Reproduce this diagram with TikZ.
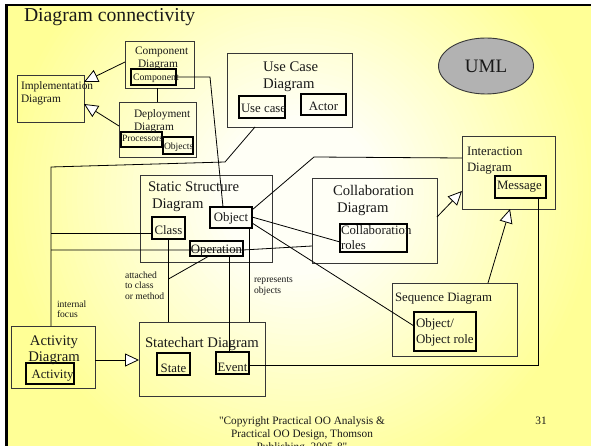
\documentclass[tikz,border=0pt]{standalone}
\usepackage{fontspec}
\setmainfont{Liberation Serif}[Ligatures=TeXOff]
\usetikzlibrary{arrows.meta,calc,shapes.geometric}

\definecolor{slideyellow}{RGB}{255,255,150}
\definecolor{slidecenter}{RGB}{255,255,246}
\definecolor{umlgray}{RGB}{178,178,178}
\definecolor{boxline}{RGB}{55,55,55}
\definecolor{ink}{RGB}{25,25,25}

\tikzset{
  box/.style={draw=boxline, line width=0.9pt, inner sep=0pt, outer sep=0pt, anchor=north west},
  inbox/.style={draw=black, line width=1.1pt, inner sep=0pt, outer sep=0pt, anchor=north west},
  txt/.style={inner sep=0pt, outer sep=0pt, text=ink},
  tbig/.style={txt, font=\fontsize{14.7}{16.5}\selectfont},
  tmid/.style={txt, font=\fontsize{12.8}{16}\selectfont},
  tsmall/.style={txt, font=\fontsize{11.4}{13}\selectfont},
  ttiny/.style={txt, font=\fontsize{9.6}{10.8}\selectfont},
  link/.style={draw=black, line width=0.8pt},
  gen/.style={link, -{Triangle[open, fill=white, length=14pt, width=13pt]}}
}

\begin{document}
\begin{tikzpicture}[x=1pt, y=-1pt]
\useasboundingbox (0,0) rectangle (591,446);

% slide background: yellow with a pale glow in the middle, and its frame
\fill[white] (0,0) rectangle (591,446);
\begin{scope}
  \clip (8,6) rectangle (591,446);
  \fill[slideyellow] (8,6) rectangle (591,446);
  \foreach \i [evaluate=\i as \r using 300-5.5*\i,
               evaluate=\i as \p using 2.5*\i] in {0,...,40}
    \fill[slidecenter!\p!slideyellow] (300,195) circle[radius=\r];
\end{scope}
\fill[black] (5,4) rectangle (8,446);
\fill[black] (5,4) rectangle (591,6);

\node[txt, font=\fontsize{19.7}{22}\selectfont, anchor=base west] (title) at (24,22) {Diagram connectivity};

% diagram boxes
\node[box, minimum width=67, minimum height=47] (impl) at (17,75) {};
\node[box, minimum width=69, minimum height=47] (comp) at (125,41) {};
\node[inbox, minimum width=45, minimum height=16] (compin) at (131,69) {};
\node[box, minimum width=77, minimum height=55] (dep) at (119,102) {};
\node[inbox, minimum width=41, minimum height=15] (proc) at (121,132) {};
\node[inbox, minimum width=30, minimum height=17] (objs) at (163,137) {};
\node[box, minimum width=125, minimum height=74] (uc) at (227,53) {};
\node[inbox, minimum width=46, minimum height=22] (ucin) at (239,96) {};
\node[inbox, minimum width=45, minimum height=21] (actor) at (301,94) {};
\node[ellipse, draw=boxline, line width=0.9pt, fill=umlgray, minimum width=95, minimum height=56, inner sep=0pt] (uml) at (486,66) {};
\node[box, minimum width=132, minimum height=87] (sss) at (140,175) {};
\node[inbox, minimum width=42, minimum height=21] (obj) at (210,207) {};
\node[inbox, minimum width=33, minimum height=22] (cls) at (152,217) {};
\node[inbox, minimum width=53, minimum height=15] (oper) at (190,241) {};
\node[box, minimum width=125, minimum height=85] (collab) at (312,178) {};
\node[inbox, minimum width=67, minimum height=28] (roles) at (340,224) {};
\node[box, minimum width=93, minimum height=73] (inter) at (462,136) {};
\node[inbox, minimum width=51, minimum height=22] (msg) at (495,176) {};
\node[box, minimum width=125, minimum height=73] (seq) at (392,283) {};
\node[inbox, minimum width=62, minimum height=39] (objrole) at (414,312) {};
\node[box, minimum width=84, minimum height=62] (act) at (11,326) {};
\node[inbox, minimum width=48, minimum height=21] (actin) at (26,363) {};
\node[box, minimum width=126, minimum height=74] (chart) at (139,322) {};
\node[inbox, minimum width=33, minimum height=22] (st) at (157,353) {};
\node[inbox, minimum width=33, minimum height=22] (ev) at (216,352) {};

% box texts (multi-line nodes sit on the baseline of their last line)
\node[tsmall, align=left, anchor=base west] (impltxt) at (21,103) {Implementation\\Diagram};
\node[tsmall, align=left, anchor=base west] (comptxt) at (135,68) {Component\\\hspace*{3pt}Diagram};
\node[txt, font=\fontsize{9.8}{11}\selectfont, anchor=base west] (compintxt) at (133,80.5) {Component};
\node[tsmall, align=left, anchor=base west] (deptxt) at (134,131) {Deployment\\Diagram};
\node[txt, font=\fontsize{9.6}{11}\selectfont, anchor=base west] (proctxt) at (122,142) {Processors};
\node[txt, font=\fontsize{9.6}{11}\selectfont, anchor=base west] (objstxt) at (164,150) {Objects};
\node[tbig, align=left, anchor=base west] (uctxt) at (263,88.5) {Use Case\\Diagram};
\node[tmid, anchor=base west] (ucintxt) at (241,113) {Use case};
\node[tmid, anchor=base] (actortxt) at (323.5,111) {Actor};
\node[txt, font=\fontsize{19}{22}\selectfont] (umltxt) at (uml.center) {UML};
\node[tbig, align=left, anchor=base west] (ssstxt) at (148,208.5) {Static Structure\\\hspace*{4pt}Diagram};
\node[tmid, anchor=base] (objtxt) at (231,222) {Object};
\node[tmid, anchor=base] (clstxt) at (168.5,234) {Class};
\node[tmid, anchor=base] (opertxt) at (216.5,254) {Operation};
\node[tbig, align=left, anchor=base west] (collabtxt) at (333,212.5) {Collaboration\\\hspace*{4pt}Diagram};
\node[txt, align=left, anchor=base west, font=\fontsize{12.8}{15}\selectfont] (rolestxt) at (341,250) {Collaboration\\roles};
\node[tmid, align=left, anchor=base west] (intertxt) at (467,172) {Interaction\\Diagram};
\node[tmid, anchor=base west] (msgtxt) at (497,190) {Message};
\node[tmid, anchor=base west] (seqtxt) at (395,301) {Sequence Diagram};
\node[txt, align=left, anchor=base west, font=\fontsize{12.9}{16.5}\selectfont] (objroletxt) at (416,343.5) {Object/\\Object role};
\node[tbig, align=center, anchor=base] (acttxt) at (54,361.5) {Activity\\Diagram};
\node[tmid, anchor=base] (actintxt) at (52.5,378) {Activity};
\node[tbig, anchor=base west] (charttxt) at (145,347) {Statechart Diagram};
\node[tmid, anchor=base] (sttxt) at (173.5,372) {State};
\node[tmid, anchor=base] (evtxt) at (232.5,371) {Event};

% connector labels
\node[ttiny, align=left, anchor=base west] (attached) at (125,299.6) {attached\\to class\\or method};
\node[ttiny, align=left, anchor=base west] (represents) at (254,293.3) {represents\\objects};
\node[txt, align=left, anchor=base west, font=\fontsize{9.6}{10}\selectfont] (internal) at (57,317) {internal\\focus};

% footer
\node[txt, font=\fontsize{11.3}{13}\selectfont, align=center, anchor=base] (copyright) at (302,450)
  {"Copyright Practical OO Analysis \&\\Practical OO Design, Thomson\\Publishing, 2005-8"};
\node[txt, font=\fontsize{11.3}{13}\selectfont, anchor=base] (pageno) at (541,424) {31};

% bend points
\coordinate (bendA) at (51,167);
\coordinate (bendB) at (225,162);
\coordinate (bendC) at (210,77);
\coordinate (bendD) at (314,157);
\coordinate (clsin) at ([yshift=-16pt]cls.north west);
\coordinate (opin) at ([yshift=-9pt]oper.north west);
\coordinate (attachpt) at ([yshift=-40pt]cls.south);
\coordinate (opdown) at ([xshift=39pt]oper.south west);
\coordinate (objdown) at ([xshift=-3pt]obj.south east);
\coordinate (msgdown) at ([xshift=43pt]msg.south west);
\coordinate (evout) at ([yshift=-2pt]ev.east);

% generalisations
\draw[gen] ([yshift=-21pt]comp.north west) -- ([yshift=-7pt]impl.north east);
\draw[gen] ([yshift=-24pt]dep.north west) -- ([yshift=-29pt]impl.north east);
\draw[gen] ([yshift=-39pt]collab.north east) -- ([yshift=-55pt]inter.north west);
\draw[gen] ([xshift=96pt]seq.north west) -- ([xshift=48pt]inter.south west);
\draw[gen] ([yshift=-34pt]act.north east) -- ([yshift=-38pt]chart.north west);

% associations
\draw[link] ([xshift=32pt]comp.south west) -- ([xshift=38pt]dep.north west);
\draw[link] (compin.east) -- (bendC) -- ([xshift=13pt]obj.north west);
\draw[link] ([xshift=28pt]uc.south west) -- (bendB) -- (bendA) -- ([xshift=40pt]act.north west);
\draw[link] (bendA |- clsin) -- (clsin);
\draw[link] (bendA |- opin) -- (opin) -- (opin -| oper.east) -- ([yshift=-68pt]collab.north west);
\draw[link] (cls.south) -- (cls.south |- chart.north);
\draw[link] ([xshift=19pt]oper.south west) -- (attachpt);
\draw[link] (opdown) -- (opdown |- ev.north);
\draw[link] (objdown) -- (objdown |- chart.north);
\draw[link] ([yshift=-3pt]obj.north east) -- (bendD) -- ([yshift=-22pt]inter.north west);
\draw[link] ([yshift=-10pt]obj.north east) -- ([yshift=-18pt]roles.north west);
\draw[link] ([yshift=-16pt]obj.north east) -- ([yshift=-14pt]objrole.north west);
\draw[link] (msgdown) -- (msgdown |- evout) -- (evout);
\end{tikzpicture}
\end{document}
